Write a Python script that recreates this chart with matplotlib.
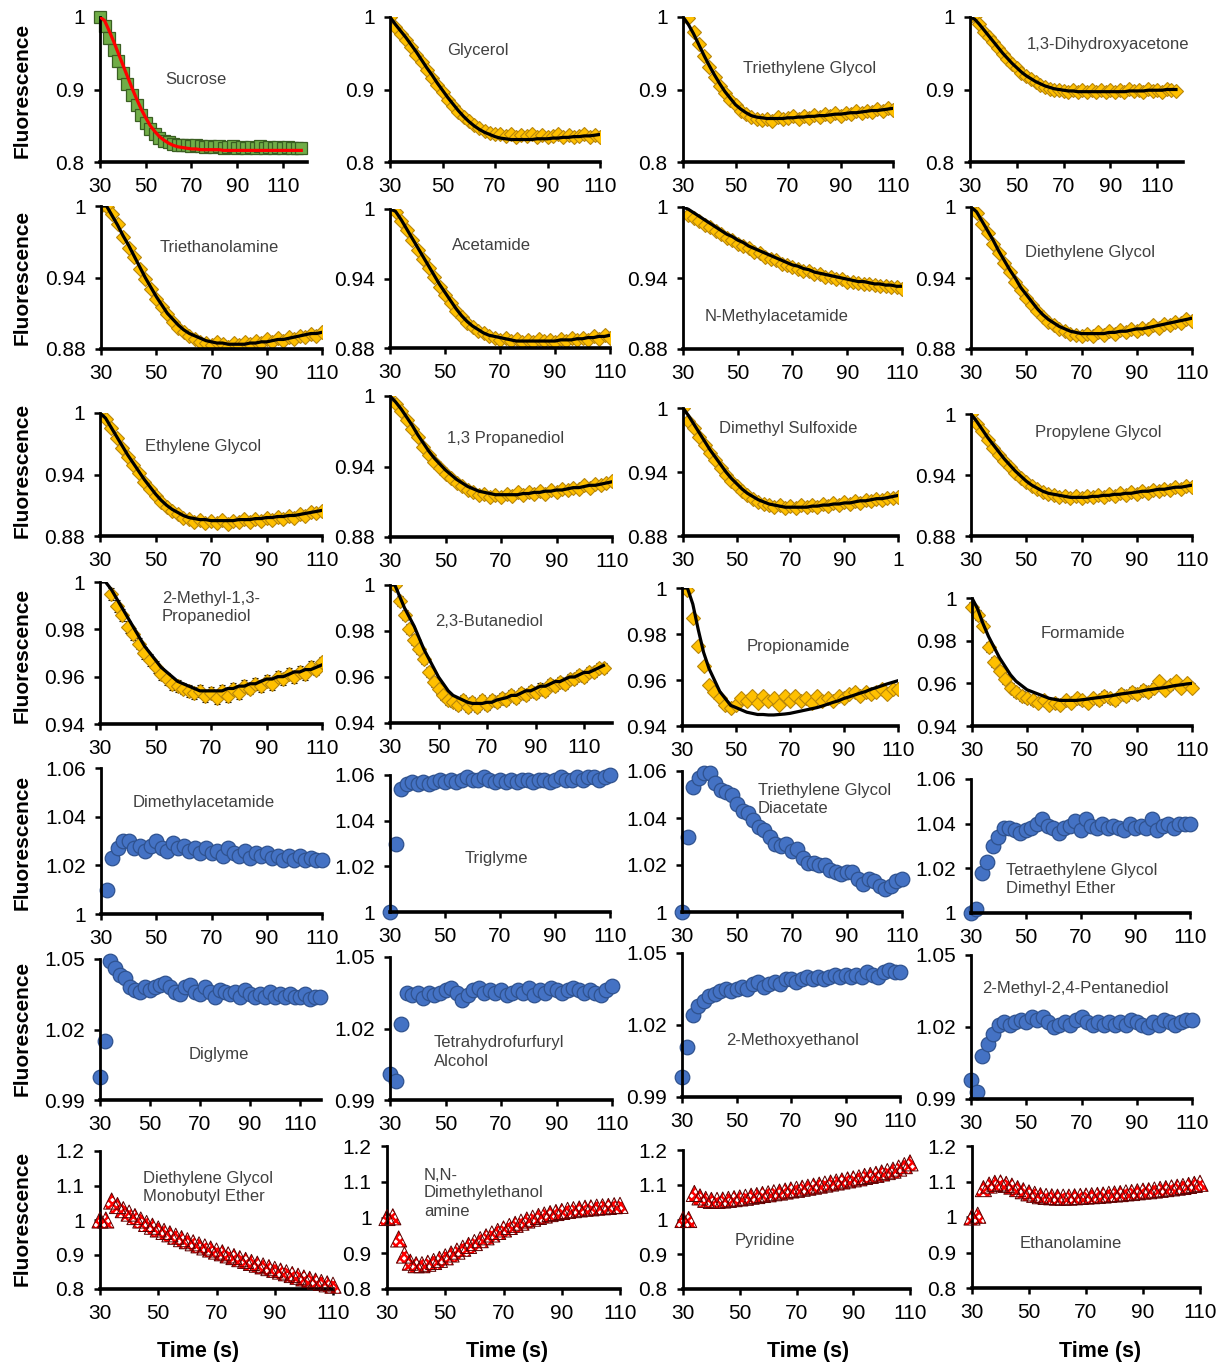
import numpy as np
import matplotlib
matplotlib.use("Agg")
import matplotlib.pyplot as plt

plt.rcParams['font.family'] = ['Liberation Sans', 'DejaVu Sans']
plt.rcParams['hatch.linewidth'] = 1.8

W, H = 1227, 1367
nan = np.nan

t_short = list(range(30, 111, 2))   # 41 samples, 30..110 s
t_long = list(range(30, 119, 2))    # 45 samples, 30..118 s

# ---------------- row 1 ----------------
sucrose = [1.000, 0.988, 0.971, 0.955, 0.939, 0.923, 0.907, 0.892, 0.878, 0.865,
           0.854, 0.845, 0.838, 0.833, 0.829, 0.827, 0.825, 0.824, 0.823, 0.823,
           0.822, 0.823, 0.822, 0.821, 0.822, 0.821, 0.822, 0.820, 0.821, 0.822,
           0.820, 0.821, 0.820, 0.821, 0.820, 0.822, 0.820, 0.821, 0.819, 0.821,
           0.820, 0.821, 0.819, 0.820, 0.819]
sucrose_fit = [1.000, 0.995, 0.981, 0.966, 0.950, 0.934, 0.918, 0.902, 0.887, 0.873,
               0.861, 0.850, 0.842, 0.835, 0.830, 0.826, 0.823, 0.821, 0.820, 0.819,
               0.818, 0.818, 0.817, 0.817, 0.817, 0.817, 0.817, 0.816, 0.816, 0.816,
               0.816, 0.816, 0.816, 0.816, 0.816, 0.816, 0.816, 0.816, 0.816, 0.816,
               0.816, 0.816, 0.816, 0.816, 0.816]

glycerol = [1.000, 0.986, 0.977, 0.968, 0.958, 0.948, 0.938, 0.927, 0.916, 0.906,
            0.896, 0.886, 0.877, 0.869, 0.862, 0.856, 0.851, 0.847, 0.843, 0.840,
            0.838, 0.839, 0.836, 0.838, 0.835, 0.837, 0.836, 0.838, 0.835, 0.837,
            0.834, 0.836, 0.838, 0.835, 0.837, 0.834, 0.836, 0.838, 0.835, 0.837,
            0.834]
glycerol_fit = [1.000, 0.990, 0.981, 0.972, 0.962, 0.952, 0.941, 0.930, 0.920, 0.909,
                0.899, 0.889, 0.880, 0.871, 0.863, 0.856, 0.850, 0.845, 0.841, 0.838,
                0.835, 0.833, 0.832, 0.831, 0.831, 0.831, 0.831, 0.831, 0.832, 0.832,
                0.832, 0.833, 0.833, 0.834, 0.834, 0.835, 0.835, 0.836, 0.836, 0.837,
                0.838]

teg = [1.000, 0.998, 0.980, 0.963, 0.946, 0.931, 0.917, 0.905, 0.895, 0.886,
       0.878, 0.871, 0.866, 0.862, 0.860, 0.858, 0.860, 0.857, 0.862, 0.859,
       0.861, 0.863, 0.860, 0.864, 0.861, 0.865, 0.862, 0.866, 0.863, 0.867,
       0.864, 0.868, 0.866, 0.870, 0.867, 0.871, 0.869, 0.873, 0.870, 0.874,
       0.872]
teg_fit = [1.000, 0.990, 0.977, 0.962, 0.947, 0.933, 0.920, 0.908, 0.897, 0.888,
           0.879, 0.873, 0.868, 0.864, 0.862, 0.861, 0.860, 0.860, 0.860, 0.860,
           0.861, 0.861, 0.862, 0.862, 0.863, 0.863, 0.864, 0.864, 0.865, 0.866,
           0.866, 0.867, 0.868, 0.868, 0.869, 0.870, 0.871, 0.871, 0.872, 0.873,
           0.874]

dha = [1.000, 1.002, 0.990, 0.980, 0.972, 0.965, 0.957, 0.949, 0.942, 0.935,
       0.930, 0.923, 0.918, 0.914, 0.910, 0.906, 0.904, 0.901, 0.900, 0.899,
       0.898, 0.896, 0.900, 0.897, 0.899, 0.896, 0.900, 0.897, 0.899, 0.896,
       0.900, 0.897, 0.899, 0.896, 0.901, 0.898, 0.900, 0.897, 0.901, 0.898,
       0.900, 0.897, 0.901, 0.899, 0.898]
dha_fit = [1.000, 0.997, 0.990, 0.982, 0.974, 0.966, 0.958, 0.950, 0.943, 0.936,
           0.930, 0.924, 0.919, 0.915, 0.911, 0.908, 0.905, 0.903, 0.901, 0.900,
           0.899, 0.898, 0.898, 0.897, 0.897, 0.897, 0.897, 0.897, 0.897, 0.897,
           0.897, 0.897, 0.897, 0.897, 0.898, 0.898, 0.898, 0.898, 0.899, 0.899,
           0.899, 0.899, 0.900, 0.900, 0.900]

# ---------------- row 2 ----------------
teoa = [1.000, 0.999, 0.993, 0.985, 0.974, 0.965, 0.957, 0.947, 0.939, 0.930,
        0.922, 0.915, 0.909, 0.903, 0.898, 0.894, 0.891, 0.888, 0.886, 0.885,
        0.883, 0.886, 0.884, 0.882, 0.885, 0.883, 0.886, 0.884, 0.887, 0.885,
        0.888, 0.886, 0.889, 0.887, 0.890, 0.888, 0.891, 0.890, 0.893, 0.891,
        0.894]
teoa_fit = [1.000, 1.000, 0.992, 0.984, 0.975, 0.967, 0.958, 0.949, 0.940, 0.932,
            0.924, 0.917, 0.910, 0.905, 0.900, 0.896, 0.893, 0.891, 0.889, 0.887,
            0.886, 0.885, 0.885, 0.884, 0.884, 0.884, 0.884, 0.885, 0.885, 0.886,
            0.886, 0.887, 0.888, 0.888, 0.889, 0.890, 0.891, 0.892, 0.893, 0.893,
            0.894]

acetamide = [1.000, 0.997, 0.990, 0.982, 0.973, 0.965, 0.957, 0.949, 0.941, 0.933,
             0.926, 0.919, 0.912, 0.907, 0.902, 0.898, 0.895, 0.893, 0.890, 0.889,
             0.887, 0.889, 0.886, 0.888, 0.885, 0.887, 0.885, 0.888, 0.886, 0.887,
             0.885, 0.888, 0.886, 0.889, 0.887, 0.889, 0.887, 0.890, 0.888, 0.891,
             0.889]
acetamide_fit = [1.000, 0.998, 0.991, 0.983, 0.975, 0.967, 0.959, 0.951, 0.943, 0.935,
                 0.928, 0.921, 0.914, 0.908, 0.903, 0.899, 0.896, 0.893, 0.891, 0.890,
                 0.889, 0.888, 0.887, 0.886, 0.886, 0.886, 0.886, 0.886, 0.886, 0.886,
                 0.886, 0.887, 0.887, 0.887, 0.888, 0.888, 0.889, 0.889, 0.890, 0.890,
                 0.891]

nma = [nan, 0.993, 0.991, 0.988, 0.985, 0.983, 0.980, 0.977, 0.974, 0.972,
       0.969, 0.967, 0.965, 0.962, 0.961, 0.958, 0.956, 0.955, 0.952, 0.951,
       0.949, 0.948, 0.946, 0.946, 0.943, 0.943, 0.941, 0.941, 0.939, 0.939,
       0.937, 0.937, 0.936, 0.935, 0.935, 0.934, 0.933, 0.933, 0.932, 0.932,
       0.931]
nma_fit = [1.000, 0.998, 0.995, 0.992, 0.989, 0.986, 0.983, 0.980, 0.977, 0.975,
           0.972, 0.970, 0.967, 0.965, 0.963, 0.961, 0.959, 0.957, 0.955, 0.953,
           0.951, 0.950, 0.948, 0.947, 0.945, 0.944, 0.943, 0.942, 0.941, 0.940,
           0.939, 0.938, 0.937, 0.937, 0.936, 0.935, 0.935, 0.934, 0.934, 0.933,
           0.933]

deg = [1.000, 0.995, 0.986, 0.978, 0.969, 0.961, 0.953, 0.945, 0.937, 0.930,
       0.923, 0.917, 0.912, 0.907, 0.903, 0.900, 0.897, 0.895, 0.893, 0.892,
       0.891, 0.893, 0.891, 0.894, 0.892, 0.895, 0.893, 0.896, 0.894, 0.897,
       0.895, 0.898, 0.897, 0.900, 0.898, 0.901, 0.900, 0.903, 0.902, 0.905,
       0.904]
deg_fit = [1.000, 0.996, 0.988, 0.980, 0.972, 0.963, 0.955, 0.947, 0.940, 0.932,
           0.926, 0.920, 0.914, 0.909, 0.905, 0.902, 0.899, 0.897, 0.895, 0.894,
           0.893, 0.893, 0.893, 0.893, 0.893, 0.894, 0.894, 0.895, 0.895, 0.896,
           0.897, 0.897, 0.898, 0.899, 0.900, 0.901, 0.902, 0.903, 0.904, 0.905,
           0.906]

# ---------------- row 3 ----------------
eg = [1.000, 0.994, 0.985, 0.976, 0.966, 0.957, 0.949, 0.941, 0.933, 0.926,
      0.919, 0.913, 0.908, 0.904, 0.901, 0.898, 0.897, 0.894, 0.896, 0.893,
      0.895, 0.893, 0.896, 0.892, 0.895, 0.894, 0.897, 0.894, 0.897, 0.895,
      0.898, 0.896, 0.899, 0.897, 0.900, 0.898, 0.901, 0.900, 0.903, 0.902,
      0.904]
eg_fit = [1.000, 0.995, 0.986, 0.977, 0.968, 0.959, 0.951, 0.943, 0.935, 0.928,
          0.921, 0.915, 0.910, 0.906, 0.903, 0.900, 0.898, 0.897, 0.896, 0.896,
          0.895, 0.895, 0.895, 0.895, 0.895, 0.896, 0.896, 0.896, 0.897, 0.897,
          0.898, 0.898, 0.899, 0.899, 0.900, 0.900, 0.901, 0.902, 0.903, 0.904,
          0.905]

pdo = [1.002, 0.993, 0.987, 0.980, 0.972, 0.965, 0.957, 0.950, 0.944, 0.939,
       0.934, 0.930, 0.926, 0.923, 0.920, 0.918, 0.916, 0.917, 0.914, 0.916,
       0.914, 0.917, 0.915, 0.918, 0.916, 0.918, 0.917, 0.919, 0.917, 0.920,
       0.918, 0.921, 0.920, 0.922, 0.921, 0.924, 0.922, 0.925, 0.924, 0.926,
       0.928]
pdo_fit = [1.000, 0.995, 0.989, 0.982, 0.975, 0.967, 0.960, 0.953, 0.947, 0.942,
           0.937, 0.933, 0.929, 0.926, 0.923, 0.921, 0.919, 0.918, 0.917, 0.916,
           0.916, 0.916, 0.916, 0.916, 0.917, 0.917, 0.918, 0.918, 0.919, 0.919,
           0.920, 0.920, 0.921, 0.922, 0.922, 0.923, 0.924, 0.924, 0.925, 0.926,
           0.927]

dmso = [1.000, 0.988, 0.981, 0.973, 0.965, 0.958, 0.951, 0.944, 0.937, 0.932,
        0.927, 0.922, 0.918, 0.915, 0.912, 0.910, 0.909, 0.907, 0.909, 0.906,
        0.908, 0.906, 0.909, 0.907, 0.909, 0.907, 0.910, 0.908, 0.911, 0.909,
        0.912, 0.910, 0.913, 0.911, 0.914, 0.913, 0.915, 0.914, 0.916, 0.916,
        0.917]
dmso_fit = [1.000, 0.993, 0.985, 0.977, 0.969, 0.961, 0.954, 0.947, 0.940, 0.934,
            0.929, 0.924, 0.920, 0.917, 0.914, 0.912, 0.910, 0.909, 0.908, 0.907,
            0.907, 0.907, 0.907, 0.907, 0.908, 0.908, 0.909, 0.909, 0.910, 0.910,
            0.911, 0.911, 0.912, 0.913, 0.913, 0.914, 0.915, 0.915, 0.916, 0.917,
            0.918]

pg = [1.000, 0.990, 0.983, 0.974, 0.967, 0.960, 0.954, 0.948, 0.942, 0.937,
      0.933, 0.929, 0.926, 0.923, 0.921, 0.920, 0.918, 0.919, 0.917, 0.919,
      0.917, 0.919, 0.918, 0.920, 0.918, 0.921, 0.919, 0.922, 0.920, 0.923,
      0.921, 0.924, 0.922, 0.925, 0.924, 0.926, 0.925, 0.928, 0.926, 0.929,
      0.928]
pg_fit = [1.000, 0.993, 0.985, 0.977, 0.970, 0.963, 0.956, 0.950, 0.944, 0.939,
          0.934, 0.930, 0.927, 0.924, 0.922, 0.921, 0.920, 0.919, 0.918, 0.918,
          0.918, 0.918, 0.919, 0.919, 0.920, 0.920, 0.921, 0.921, 0.922, 0.922,
          0.923, 0.924, 0.924, 0.925, 0.926, 0.926, 0.927, 0.928, 0.928, 0.929,
          0.930]

# ---------------- row 4 ----------------
mpdiol = [nan, nan, 0.995, 0.990, 0.986, 0.981, 0.978, 0.974, 0.970, 0.967,
          0.964, 0.961, 0.959, 0.957, 0.956, 0.955, 0.954, 0.953, 0.954, 0.952,
          0.953, 0.951, 0.954, 0.952, 0.955, 0.953, 0.956, 0.955, 0.957, 0.956,
          0.958, 0.957, 0.960, 0.959, 0.961, 0.960, 0.962, 0.961, 0.964, 0.963,
          0.966]
mpdiol_fit = [1.000, 1.000, 0.997, 0.993, 0.989, 0.985, 0.981, 0.977, 0.973, 0.970,
              0.967, 0.964, 0.962, 0.960, 0.958, 0.957, 0.956, 0.955, 0.954, 0.954,
              0.954, 0.954, 0.954, 0.955, 0.955, 0.956, 0.956, 0.957, 0.957, 0.958,
              0.959, 0.959, 0.960, 0.960, 0.961, 0.962, 0.962, 0.963, 0.963, 0.964,
              0.965]

bdo = [nan, 1.000, 0.993, 0.987, 0.981, 0.976, 0.972, 0.968, 0.962, 0.958,
       0.955, 0.952, 0.950, 0.949, 0.948, 0.950, 0.947, 0.949, 0.947, 0.950,
       0.948, 0.950, 0.949, 0.951, 0.950, 0.952, 0.951, 0.953, 0.952, 0.954,
       0.953, 0.955, 0.954, 0.957, 0.956, 0.958, 0.957, 0.959, 0.959, 0.961,
       0.960, 0.962, 0.962, 0.964, 0.964]
bdo_fit = [1.000, 1.000, 0.995, 0.990, 0.986, 0.982, 0.977, 0.972, 0.968, 0.964,
           0.960, 0.957, 0.954, 0.952, 0.951, 0.950, 0.949, 0.9485, 0.9485, 0.9485,
           0.949, 0.949, 0.950, 0.9505, 0.951, 0.952, 0.952, 0.953, 0.954, 0.954,
           0.955, 0.956, 0.956, 0.957, 0.958, 0.958, 0.959, 0.960, 0.960, 0.961,
           0.962, 0.962, 0.963, 0.964, 0.965]

propionamide = [1.000, 0.999, 0.987, 0.975, 0.966, 0.958, 0.955, 0.952, 0.949, 0.948,
                0.949, 0.952, 0.951, 0.953, 0.950, 0.953, 0.951, 0.952, 0.949, 0.953,
                0.951, 0.953, 0.951, 0.952, 0.950, 0.953, 0.951, 0.952, 0.951, 0.953,
                0.952, 0.954, 0.955, 0.953, 0.955, 0.954, 0.955, 0.956, 0.954, 0.956,
                0.956]
propionamide_fit = [1.000, 1.000, 0.993, 0.982, 0.972, 0.965, 0.960, 0.955, 0.952, 0.949,
                    0.948, 0.947, 0.946, 0.9455, 0.945, 0.945, 0.9448, 0.9448, 0.945, 0.9452,
                    0.9455, 0.946, 0.9465, 0.947, 0.9475, 0.948, 0.9487, 0.9495, 0.9503, 0.951,
                    0.952, 0.9527, 0.9535, 0.9543, 0.955, 0.956, 0.9567, 0.9575, 0.9583, 0.959,
                    0.9597]

formamide = [0.996, 0.992, 0.987, 0.977, 0.970, 0.966, 0.962, 0.958, 0.956, 0.954,
             0.953, 0.952, 0.951, 0.952, 0.950, 0.951, 0.950, 0.952, 0.951, 0.953,
             0.952, 0.951, 0.953, 0.952, 0.954, 0.953, 0.952, 0.955, 0.954, 0.956,
             0.955, 0.957, 0.956, 0.958, 0.961, 0.957, 0.959, 0.961, 0.958, 0.960,
             0.958]
formamide_fit = [1.000, 0.995, 0.988, 0.982, 0.977, 0.972, 0.968, 0.964, 0.961, 0.959,
                 0.957, 0.956, 0.955, 0.954, 0.953, 0.9525, 0.952, 0.952, 0.952, 0.952,
                 0.9523, 0.9526, 0.953, 0.9533, 0.9537, 0.954, 0.9545, 0.955, 0.9553, 0.9557,
                 0.956, 0.9565, 0.957, 0.9573, 0.9577, 0.958, 0.9585, 0.959, 0.9593, 0.9597,
                 0.960]

# ---------------- row 5 ----------------
dmac = [nan, 1.010, 1.023, 1.027, 1.030, 1.030, 1.027, 1.028, 1.026, 1.028,
        1.030, 1.027, 1.026, 1.029, 1.027, 1.028, 1.026, 1.027, 1.025, 1.027,
        1.025, 1.026, 1.024, 1.027, 1.025, 1.024, 1.026, 1.023, 1.025, 1.024,
        1.025, 1.023, 1.024, 1.022, 1.024, 1.022, 1.024, 1.022, 1.023, 1.022,
        1.022]
triglyme = [1.000, 1.030, 1.054, 1.056, 1.057, 1.056, 1.057, 1.056, 1.057, 1.058,
            1.057, 1.058, 1.057, 1.058, 1.059, 1.058, 1.058, 1.059, 1.058, 1.057,
            1.058, 1.057, 1.058, 1.057, 1.058, 1.058, 1.057, 1.058, 1.058, 1.057,
            1.058, 1.059, 1.058, 1.058, 1.059, 1.058, 1.059, 1.059, 1.058, 1.059,
            1.060]
tegda = [1.000, 1.032, 1.053, 1.057, 1.059, 1.059, 1.055, 1.052, 1.051, 1.050,
         1.046, 1.043, 1.042, 1.039, 1.036, 1.035, 1.032, 1.029, 1.028, 1.029,
         1.026, 1.027, 1.023, 1.021, 1.021, 1.020, 1.020, 1.018, 1.017, 1.016,
         1.017, 1.017, 1.014, 1.012, 1.014, 1.013, 1.011, 1.010, 1.011, 1.013,
         1.014]
tegdme = [1.000, 1.002, 1.018, 1.023, 1.030, 1.034, 1.038, 1.038, 1.037, 1.036,
          1.037, 1.038, 1.040, 1.042, 1.039, 1.038, 1.036, 1.038, 1.039, 1.041,
          1.037, 1.042, 1.039, 1.038, 1.040, 1.038, 1.039, 1.038, 1.037, 1.040,
          1.038, 1.039, 1.038, 1.042, 1.037, 1.039, 1.040, 1.038, 1.040, 1.040,
          1.040]

# ---------------- row 6 ----------------
diglyme = [1.000, 1.015, 1.049, 1.046, 1.043, 1.042, 1.038, 1.037, 1.036, 1.038,
           1.037, 1.038, 1.039, 1.040, 1.038, 1.036, 1.035, 1.038, 1.039, 1.036,
           1.035, 1.038, 1.036, 1.034, 1.037, 1.036, 1.035, 1.036, 1.034, 1.037,
           1.035, 1.034, 1.035, 1.034, 1.036, 1.034, 1.035, 1.034, 1.035, 1.034,
           1.034, 1.035, 1.033, 1.034, 1.034]
thfa = [1.001, 0.998, 1.022, 1.035, 1.034, 1.035, 1.033, 1.035, 1.034, 1.035,
        1.036, 1.037, 1.035, 1.032, 1.034, 1.036, 1.037, 1.035, 1.036, 1.035,
        1.036, 1.034, 1.035, 1.036, 1.035, 1.037, 1.034, 1.036, 1.035, 1.037,
        1.036, 1.035, 1.036, 1.037, 1.036, 1.035, 1.036, 1.035, 1.034, 1.036,
        1.038]
methoxyethanol = [0.9985, 1.011, 1.024, 1.028, 1.030, 1.032, 1.033, 1.034, 1.035, 1.034,
                  1.035, 1.036, 1.035, 1.037, 1.038, 1.036, 1.037, 1.038, 1.037, 1.039,
                  1.039, 1.038, 1.039, 1.040, 1.039, 1.040, 1.039, 1.040, 1.041, 1.040,
                  1.041, 1.040, 1.041, 1.040, 1.042, 1.041, 1.040, 1.042, 1.043, 1.042,
                  1.042]
mpd = [0.998, 0.993, 1.008, 1.013, 1.017, 1.021, 1.022, 1.021, 1.022, 1.023,
       1.022, 1.024, 1.023, 1.024, 1.022, 1.020, 1.021, 1.022, 1.021, 1.023,
       1.024, 1.022, 1.021, 1.022, 1.021, 1.022, 1.021, 1.022, 1.021, 1.023,
       1.022, 1.021, 1.020, 1.022, 1.021, 1.023, 1.022, 1.021, 1.022, 1.023,
       1.023]

# ---------------- row 7 ----------------
degbe = [1.000, 1.000, 1.055, 1.042, 1.030, 1.020, 1.010, 1.000, 0.990, 0.982,
         0.974, 0.967, 0.960, 0.953, 0.946, 0.940, 0.934, 0.928, 0.922, 0.916,
         0.910, 0.905, 0.899, 0.894, 0.888, 0.883, 0.877, 0.872, 0.867, 0.862,
         0.857, 0.852, 0.847, 0.842, 0.837, 0.832, 0.828, 0.823, 0.819, 0.815,
         0.811]
dmea = [1.000, 1.002, 0.940, 0.895, 0.875, 0.868, 0.868, 0.872, 0.877, 0.883,
        0.890, 0.898, 0.906, 0.914, 0.922, 0.930, 0.938, 0.946, 0.954, 0.961,
        0.968, 0.975, 0.981, 0.987, 0.993, 0.998, 1.003, 1.007, 1.011, 1.014,
        1.017, 1.020, 1.022, 1.024, 1.026, 1.027, 1.029, 1.030, 1.031, 1.033,
        1.034]
pyridine = [1.000, 1.000, 1.075, 1.065, 1.058, 1.055, 1.055, 1.056, 1.058, 1.060,
            1.062, 1.064, 1.067, 1.069, 1.072, 1.074, 1.077, 1.079, 1.082, 1.085,
            1.087, 1.090, 1.093, 1.096, 1.099, 1.102, 1.105, 1.108, 1.111, 1.114,
            1.117, 1.120, 1.124, 1.127, 1.130, 1.134, 1.138, 1.142, 1.148, 1.155,
            1.163]
ethanolamine = [1.000, 1.005, 1.080, 1.090, 1.095, 1.096, 1.092, 1.087, 1.080, 1.074,
                1.068, 1.064, 1.060, 1.058, 1.057, 1.056, 1.056, 1.056, 1.057, 1.058,
                1.059, 1.060, 1.061, 1.062, 1.064, 1.065, 1.066, 1.068, 1.069, 1.071,
                1.073, 1.074, 1.076, 1.078, 1.080, 1.082, 1.084, 1.086, 1.089, 1.092,
                1.095]

# y axis setups per row
y_r1 = ([0.8, 0.9, 1.0], ['0.8', '0.9', '1'])
y_r23 = ([0.88, 0.94, 1.0], ['0.88', '0.94', '1'])
y_r4 = ([0.94, 0.96, 0.98, 1.0], ['0.94', '0.96', '0.98', '1'])
y_r5 = ([1.0, 1.02, 1.04, 1.06], ['1', '1.02', '1.04', '1.06'])
y_r6 = ([0.99, 1.02, 1.05], ['0.99', '1.02', '1.05'])
y_r7 = ([0.8, 0.9, 1.0, 1.1, 1.2], ['0.8', '0.9', '1', '1.1', '1.2'])
x_ticks = [30, 50, 70, 90, 110]

# (label, t, data, fit, style, ylim, yticks, xlim, box px (x0,x1,ytop,ybot), text (x,y,ha), err)
panels = [
    ("Sucrose", t_long, sucrose, sucrose_fit, "square", (0.8, 1.0), y_r1, (30, 120.5), (100, 307, 17, 162), (196, 80, "center"), None),
    ("Glycerol", t_short, glycerol, glycerol_fit, "diamond", (0.8, 1.0), y_r1, (30, 110), (390, 600, 17, 162), (478, 51, "center"), None),
    ("Triethylene Glycol", t_short, teg, teg_fit, "diamond", (0.8, 1.0), y_r1, (30, 110), (683, 893, 17, 162), (810, 69, "center"), None),
    ("1,3-Dihydroxyacetone", t_long, dha, dha_fit, "diamond", (0.8, 1.0), y_r1, (30, 121), (970, 1183, 17, 162), (1108, 44, "center"), None),

    ("Triethanolamine", t_short, teoa, teoa_fit, "diamond", (0.88, 1.0), y_r23, (30, 110), (101, 322, 206, 349), (219, 247, "center"), None),
    ("Acetamide", t_short, acetamide, acetamide_fit, "diamond", (0.88, 1.0), y_r23, (30, 110), (390, 610, 209, 348), (491, 245, "center"), None),
    ("N-Methylacetamide", t_short, nma, nma_fit, "diamond", (0.88, 1.0), y_r23, (30, 110), (683, 902, 207, 349), (777, 316, "center"), None),
    ("Diethylene Glycol", t_short, deg, deg_fit, "diamond", (0.88, 1.0), y_r23, (30, 110), (971, 1192, 207, 349), (1090, 253, "center"), None),

    ("Ethylene Glycol", t_short, eg, eg_fit, "diamond", (0.88, 1.0), y_r23, (30, 110), (100, 322, 413, 536), (203, 446, "center"), None),
    ("1,3 Propanediol", t_short, pdo, pdo_fit, "diamond", (0.88, 1.0), y_r23, (30, 110), (390, 612, 396, 537), (506, 439, "center"), None),
    ("Dimethyl Sulfoxide", t_short, dmso, dmso_fit, "diamond", (0.88, 1.0), y_r23, (30, 110), (683, 898, 408, 536), (788, 429, "center"), None),
    ("Propylene Glycol", t_short, pg, pg_fit, "diamond", (0.88, 1.0), y_r23, (30, 110), (971, 1192, 414, 536), (1098, 433, "center"), None),

    ("2-Methyl-1,3-\nPropanediol", t_short, mpdiol, mpdiol_fit, "diamond", (0.94, 1.0), y_r4, (30, 110), (100, 322, 582, 724), (162, 607, "left"), 0.0025),
    ("2,3-Butanediol", t_long, bdo, bdo_fit, "diamond", (0.94, 1.0), y_r4, (30, 121.5), (390, 612, 585, 723), (489, 622, "center"), 0.0022),
    ("Propionamide", t_short, propionamide, propionamide_fit, "diamond", (0.94, 1.0), y_r4, (30, 110), (682, 898, 588, 726), (798, 647, "center"), 0.0015),
    ("Formamide", t_short, formamide, formamide_fit, "diamond", (0.94, 0.995), y_r4, (30, 110), (972, 1192, 598, 726), (1083, 634, "center"), 0.0022),

    ("Dimethylacetamide", t_short, dmac, None, "circle", (1.0, 1.06), y_r5, (30, 110), (101, 322, 768, 914), (204, 802, "center"), None),
    ("Triglyme", t_short, triglyme, None, "circle", (1.0, 1.06), y_r5, (30, 110), (390, 610, 775, 912), (496, 858, "center"), None),
    ("Triethylene Glycol\nDiacetate", t_short, tegda, None, "circle", (1.0, 1.06), y_r5, (30, 110), (682, 902, 771, 912), (758, 800, "left"), 0.001),
    ("Tetraethylene Glycol\nDimethyl Ether", t_short, tegdme, None, "circle", (1.0, 1.06), y_r5, (30, 110), (971, 1190, 779, 913), (1006, 880, "left"), 0.0022),

    ("Diglyme", t_long, diglyme, None, "circle", (0.99, 1.05), y_r6, (30, 118.5), (100, 321, 959, 1100), (219, 1054, "center"), None),
    ("Tetrahydrofurfuryl\nAlcohol", t_short, thfa, None, "circle", (0.99, 1.05), y_r6, (30, 110), (390, 612, 957, 1100), (434, 1052, "left"), None),
    ("2-Methoxyethanol", t_short, methoxyethanol, None, "circle", (0.99, 1.05), y_r6, (30, 110), (682, 900, 953, 1097), (793, 1040, "center"), None),
    ("2-Methyl-2,4-Pentanediol", t_short, mpd, None, "circle", (0.99, 1.05), y_r6, (30, 110), (971, 1192, 955, 1099), (1075, 989, "center"), None),

    ("Diethylene Glycol\nMonobutyl Ether", t_short, degbe, None, "triangle", (0.8, 1.2), y_r7, (30, 110), (100, 333, 1151, 1289), (143, 1188, "left"), None),
    ("N,N-\nDimethylethanol\namine", t_short, dmea, None, "triangle", (0.8, 1.2), y_r7, (30, 110), (387, 620, 1146, 1289), (424, 1193, "left"), None),
    ("Pyridine", t_short, pyridine, None, "triangle", (0.8, 1.2), y_r7, (30, 110), (683, 910, 1150, 1289), (765, 1240, "center"), None),
    ("Ethanolamine", t_short, ethanolamine, None, "triangle", (0.8, 1.2), y_r7, (30, 110), (972, 1200, 1146, 1288), (1071, 1243, "center"), None),
]

fig = plt.figure(figsize=(W / 100, H / 100), dpi=100)

for i, (label, t, y, fit, style, ylim, yset, xlim, box, txt, err) in enumerate(panels):
    x0, x1, y0, y1 = box
    ax = fig.add_axes([x0 / W, 1 - y1 / H, (x1 - x0) / W, (y1 - y0) / H])
    clip = label != "Formamide"

    if err is not None:
        ax.errorbar(t, y, yerr=err, fmt='none', ecolor='black', elinewidth=0.8,
                     capsize=2.5, capthick=0.8, zorder=1, clip_on=clip)

    if style == "square":
        ax.plot(t, y, 's', ms=8, mfc='#70AD47', mec='#3A5F22', mew=0.9, zorder=2, clip_on=False)
    elif style == "diamond":
        ax.plot(t, y, 'D', ms=7.6, mfc='#FFC000', mec='#B8860B', mew=0.8, zorder=2, clip_on=clip)
    elif style == "circle":
        ax.plot(t, y, 'o', ms=10.5, mfc='#4472C4', mec='#2F528F', mew=0.9, zorder=2, clip_on=False)
    else:
        ax.scatter(t, y, s=135, marker='^', facecolors='white', edgecolors='#FF0000',
                   linewidths=0, hatch='xxxx', zorder=2, clip_on=False)
        ax.scatter(t, y, s=135, marker='^', facecolors='none', edgecolors='#5a0000',
                   linewidths=0.7, zorder=3, clip_on=False)

    if fit is not None:
        color = '#FF0000' if style == "square" else 'black'
        ax.plot(t, fit, '-', color=color, lw=2.3, zorder=4)

    ax.set_xlim(*xlim)
    ax.set_ylim(*ylim)
    ax.set_xticks(x_ticks)
    xl = ['30', '50', '70', '90', '110']
    if label == "Dimethyl Sulfoxide":
        xl = ['30', '50', '70', '90', '1']
    ax.set_xticklabels(xl)
    ax.set_yticks(yset[0])
    ax.set_yticklabels(yset[1])

    for s in ['top', 'right']:
        ax.spines[s].set_visible(False)
    for s in ['left', 'bottom']:
        ax.spines[s].set_linewidth(2.0)
        ax.spines[s].set_color('black')
    ax.spines['bottom'].set_linewidth(2.6)
    ax.tick_params(axis='both', direction='out', length=4, width=1.8,
                   labelsize=15, pad=7, colors='black')
    ax.patch.set_alpha(0)

    tx, ty, ha = txt
    fig.text(tx / W, 1 - ty / H, label, ha=ha, va='center', fontsize=12,
             color='#404040', linespacing=1.25)

# row y labels
for yc in [90, 277, 470, 655, 842, 1028, 1218]:
    fig.text(22 / W, 1 - yc / H, "Fluorescence", rotation=90, ha='center', va='center',
             fontsize=15, fontweight='bold')

for xc in [198, 507, 808, 1100]:
    fig.text(xc / W, 1 - 1352 / H, "Time (s)", ha='center', va='center',
             fontsize=15.5, fontweight='bold')

fig.savefig("out.png", dpi=100)
